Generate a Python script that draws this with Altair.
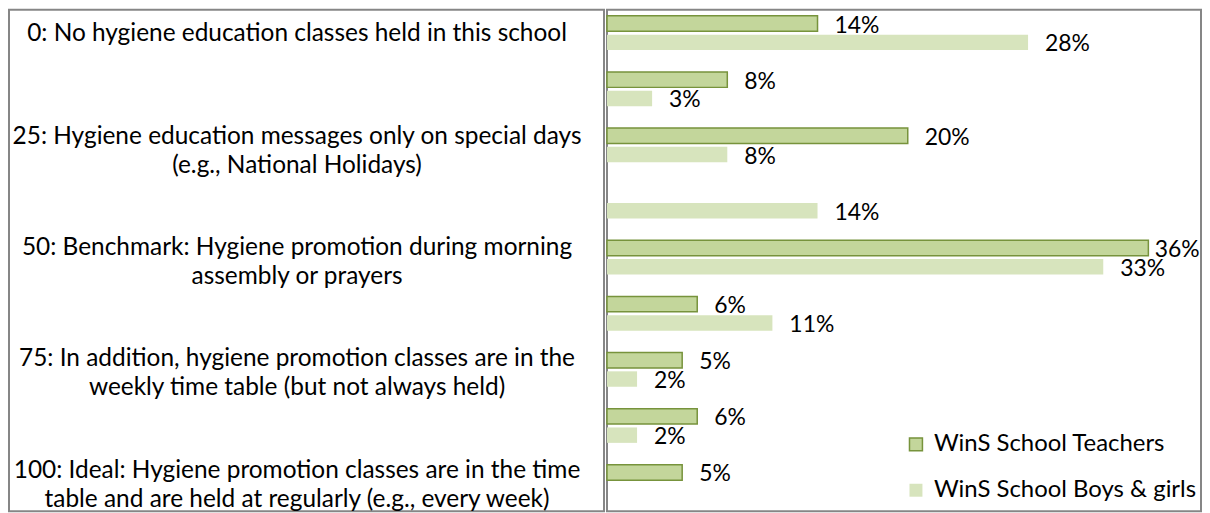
import altair as alt
import pandas as pd

# ---- data ----
levels = ["0", "12.5", "25", "37.5", "50", "62.5", "75", "87.5", "100"]
series = ["WinS School Teachers", "WinS School Boys & girls"]
teachers = [14, 8, 20, None, 36, 6, 5, 6, 5]
boys = [28, 3, 8, 14, 33, 11, 2, 2, None]

label_levels = ["0", "25", "50", "75", "100"]
label_texts = [
    "0: No hygiene education classes held in this school",
    "25: Hygiene education messages only on special days\n(e.g., National Holidays)",
    "50: Benchmark: Hygiene promotion during morning\nassembly or prayers",
    "75: In addition, hygiene promotion classes are in the\nweekly time table (but not always held)",
    "100: Ideal: Hygiene promotion classes are in the time\ntable and are held at regularly (e.g., every week)",
]

fill_colors = ["#C3D69B", "#D7E4BD"]
stroke_colors = ["#77933C", "transparent"]
FONT = "Lato"
CAT_FS = 24.5
LEG_FS = 24
VAL_FS = 23
LINE_H = 29

rows = []
for lv, t, b in zip(levels, teachers, boys):
    if t is not None:
        rows.append({"level": lv, "series": series[0], "value": t})
    if b is not None:
        rows.append({"level": lv, "series": series[1], "value": b})
df = pd.DataFrame(rows)
labels_df = pd.DataFrame({"level": label_levels, "label": label_texts})

H = 503
y_scale = alt.Scale(domain=levels, paddingInner=0.39, paddingOuter=0.162, align=0.33)
x_scale = alt.Scale(domain=[0, 39.5], nice=False)

left_base = alt.Chart(labels_df).encode(
    y=alt.Y("level:N", scale=y_scale, axis=None),
    x=alt.value(289),
    text="label:N",
)
text_style = dict(align="center", baseline="middle", lineBreak="\n", lineHeight=LINE_H,
                  font=FONT, fontSize=CAT_FS, color="#000000", clip=True)
one_line = left_base.transform_filter(
    "indexof(datum.label, '\\n') < 0"
).mark_text(dy=6, **text_style)
two_lines = left_base.transform_filter(
    "indexof(datum.label, '\\n') >= 0"
).mark_text(dy=-3, **text_style)
left = alt.layer(one_line, two_lines).properties(width=597, height=H)

legend = alt.Legend(
    title=None, orient="none", legendX=898, legendY=424,
    symbolType="square", symbolSize=169, symbolStrokeWidth=1.5,
    labelFont=FONT, labelFontSize=LEG_FS, labelColor="#000000",
    labelLimit=400, labelOffset=6, rowPadding=22, padding=0,
)

base = alt.Chart(df).encode(
    y=alt.Y("level:N", scale=y_scale, axis=None),
    yOffset=alt.YOffset("series:N", sort=series,
                        scale=alt.Scale(domain=series, paddingInner=0.18, paddingOuter=0)),
)

bars = base.mark_bar(strokeWidth=1.5).encode(
    x=alt.X("value:Q", scale=x_scale, axis=None),
    fill=alt.Fill("series:N", sort=series,
                  scale=alt.Scale(domain=series, range=fill_colors), legend=legend),
    stroke=alt.Stroke("series:N", sort=series,
                      scale=alt.Scale(domain=series, range=stroke_colors), legend=legend),
)

texts = base.transform_calculate(
    pos="min(datum.value, 35.3)",
    txt="datum.value + '%'",
).mark_text(
    align="left", baseline="middle", dx=17, dy=2,
    font=FONT, fontSize=VAL_FS, color="#000000",
).encode(
    x=alt.X("pos:Q", scale=x_scale, axis=None),
    text="txt:N",
)

right = alt.layer(bars, texts).properties(width=596, height=H)

chart = alt.hconcat(left, right, spacing=0).properties(
    padding=0
).configure_view(
    stroke="#868686", strokeWidth=2
).configure_concat(spacing=0)

chart.save("out.html", embed_options={"renderer": "svg", "actions": False})
